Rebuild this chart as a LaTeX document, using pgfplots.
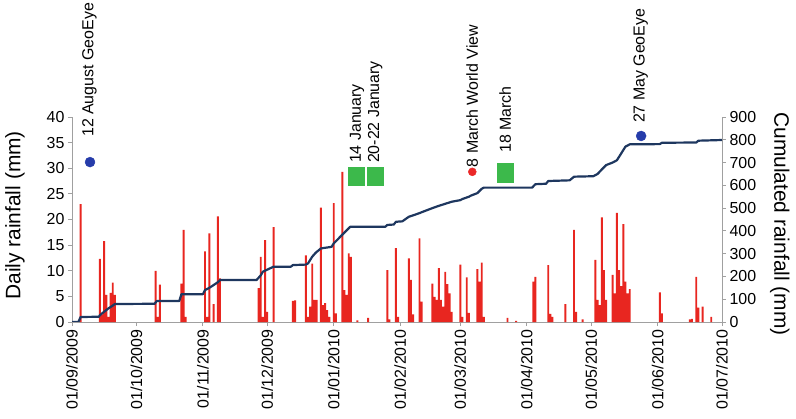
\documentclass[border=0pt]{standalone}
\usepackage{pgfplots}
\pgfplotsset{compat=1.18}
\usepackage{fontspec}
\setmainfont{Liberation Sans}
\definecolor{barred}{RGB}{232,38,32}
\definecolor{navy}{RGB}{30,55,95}
\definecolor{dotblue}{RGB}{38,60,170}
\definecolor{dotred}{RGB}{235,40,40}
\definecolor{sqgreen}{RGB}{60,185,75}
\definecolor{axgray}{RGB}{160,160,160}
\newcommand{\tickfont}{\fontsize{16}{16}\selectfont}
\newcommand{\labfont}{\fontsize{21}{21}\selectfont}
\newcommand{\annfont}{\fontsize{16}{16}\selectfont}
\begin{document}
\begin{tikzpicture}
\begin{axis}[
  scale only axis, width=650bp, height=205bp,
  xmin=0, xmax=303, ymin=0, ymax=40,
  axis x line*=bottom, axis y line*=left,
  axis line style={-, draw=axgray, line width=0.8bp},
  xtick={0,30,61,91,122,153,181,212,242,273,303},
  xticklabels={01/09/2009,01/10/2009,01/11/2009,01/12/2009,01/01/2010,01/02/2010,01/03/2010,01/04/2010,01/05/2010,01/06/2010,01/07/2010},
  x tick label style={rotate=90, anchor=east, font=\tickfont},
  ytick={0,5,...,40},
  y tick label style={font=\tickfont},
  tick align=outside, major tick length=4bp,
  tick style={draw=axgray, line width=0.8bp},
  every axis y label/.style={at={(axis description cs:-0.0877,0.52)}, rotate=90, anchor=center, font=\labfont},
  ylabel={Daily rainfall (mm)},
  /pgf/number format/assume math mode=true,
  clip=false,
]
\addplot[ybar, bar width=0.9, fill=barred, draw=none] coordinates {
(4,23) (13,12.3) (14,1.5) (15,15.8) (16,5.3) (17,1.0) (18,5.7) (19,7.7) (20,5.3)
(39,10) (40,1.0) (41,7.3) (51,7.5) (52,18) (53,1)
(62,13.8) (63,1.0) (64,17.3) (66,3.5) (68,20.6) (69,8.5)
(87,6.6) (88,12.7) (89,1) (90,16) (91,2) (94,18.5)
(103,4.1) (104,4.2) (109,13) (110,1) (111,3) (112,11.4) (113,4.3) (114,4.3)
(116,22.3) (117,3.3) (118,3.7) (119,2.3) (120,1) (122,23.2) (123,1.7)
(126,29.3) (127,6.2) (128,5.3) (129,13.4) (130,12.7) (133,0.3) (138,0.8)
(147,10.1) (148,0.5) (151,14.4) (152,1) (157,12.4) (158,8.2) (159,1.5)
(162,16.3) (163,4) (168,7.5) (169,4.9) (170,4.3) (171,10.5) (172,4.3) (173,3)
(174,9.8) (175,7.4) (176,5.6) (177,2) (181,11.2) (182,1) (184,8.7) (185,1.8)
(189,10.3) (190,7.9) (191,11.6) (192,1) (203,0.8) (207,0.2)
(215,7.9) (216,8.8) (222,11.1) (223,1.6) (224,1) (230,3.5) (234,18) (235,2) (238,0.5)
(244,12.1) (245,4.3) (246,3.3) (247,20.4) (248,10.1) (249,4.3)
(252,9.2) (253,5.6) (254,21.3) (255,10.1) (256,7) (257,19.1) (258,7.9) (259,5.6) (260,6.4)
(274,5.8) (275,1.7) (288,0.5) (289,0.6) (291,8.8) (292,2.8) (294,3) (298,1)
};
\addplot[only marks, mark=*, mark size=5bp, color=dotblue] coordinates {(8.4,31.2) (265.3,36.3)};
\addplot[only marks, mark=*, mark size=4bp, color=dotred] coordinates {(186.6,29.3)};
\addplot[only marks, mark=square*, mark size=8bp, color=sqgreen, mark options={yscale=1.15}] coordinates {(132.4,28.5) (141.3,28.5) (201.9,29.1)};
\node[rotate=90, anchor=west, inner sep=0, font=\annfont] at (axis cs:8.1,36.1) {12 August GeoEye};
\node[rotate=90, anchor=west, inner sep=0, font=\annfont] at (axis cs:132.9,31.0) {14 January};
\node[rotate=90, anchor=west, inner sep=0, font=\annfont] at (axis cs:141.4,31.0) {20-22 January};
\node[rotate=90, anchor=west, inner sep=0, font=\annfont] at (axis cs:186.6,30.2) {8 March World View};
\node[rotate=90, anchor=west, inner sep=0, font=\annfont] at (axis cs:201.9,33.0) {18 March};
\node[rotate=90, anchor=west, inner sep=0, font=\annfont] at (axis cs:265.1,38.8) {27 May GeoEye};
\end{axis}
\begin{axis}[
  scale only axis, width=650bp, height=205bp,
  xmin=0, xmax=303, ymin=0, ymax=900,
  axis x line=none, axis y line*=right,
  axis line style={-, draw=axgray, line width=0.8bp},
  xtick=\empty,
  ytick={0,100,...,900},
  y tick label style={font=\tickfont},
  tick align=outside, major tick length=4bp,
  tick style={draw=axgray, line width=0.8bp},
  every axis y label/.style={at={(axis description cs:1.089,0.478)}, rotate=-90, anchor=center, font=\labfont},
  ylabel={Cumulated rainfall (mm)},
  /pgf/number format/assume math mode=true,
]
\addplot[navy, line width=2.2bp, line join=round] coordinates {
(0,0) (3,0) (4,22) (12.5,23) (13,30) (15,45) (17,60) (19,72) (20,79) (38.5,80) (39.5,92) (50,92) (51,122)
(61,122) (62,140) (64,150) (66,162) (68,175) (69,184) (86,184) (88,205) (89,221) (94,243) (102,243) (103,250)
(109,252) (110,257) (112,287) (113.6,304) (116,323) (121,330) (122,345) (126.6,389) (129.7,418)
(146,418) (147,426) (150,428) (151,440) (154,442) (157,462) (158,465) (162,478) (163,482) (168,500)
(171,510) (175,522) (177,528) (181,535) (182,540) (185,550) (186,555) (189,566) (191,585) (192,590)
(214.5,590) (216,605) (221,607) (222,619) (232,622) (234,638) (243,640) (245,650) (247,670) (249,689)
(252,700) (254,710) (256,740) (258,770) (260,780) (274,781) (275,787) (291,788) (292,796) (303,799)
};
\end{axis}
\pgfresetboundingbox
\path (-72bp,-97bp) rectangle (724bp,322bp);
\end{tikzpicture}
\end{document}
